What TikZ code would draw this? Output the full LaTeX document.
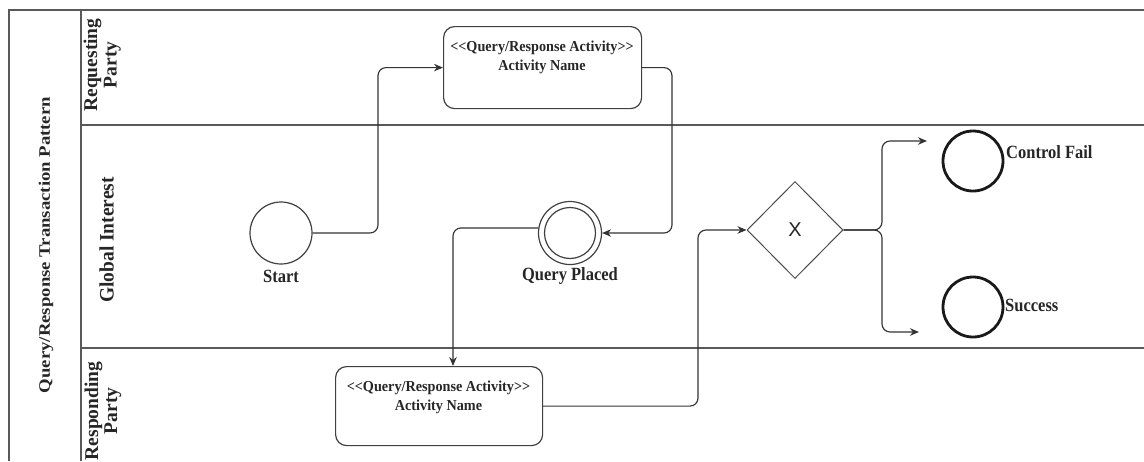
\documentclass[tikz,border=0pt]{standalone}
\usepackage{fontspec}
\usepackage{graphicx}
\setmainfont{Liberation Serif}
\newfontfamily\gwfont{Liberation Sans}
\usetikzlibrary{shapes.geometric,arrows.meta,calc}
% double angle brackets kept apart so the TeX mapping leaves them as they are
\newcommand\dlt{<\kern0pt<}
\newcommand\dgt{>\kern0pt>}
% slightly tall lettering, one or more centred lines
\newcommand\tallbox[3][1.13]{\scalebox{1}[#1]{\fontsize{#2}{#2}\selectfont\bfseries
  \begin{tabular}{@{}c@{}}#3\end{tabular}}}
% one line of lettering, baseline kept
\newcommand\tallline[3][1.0]{\scalebox{1}[#1]{\fontsize{#2}{#2}\selectfont\bfseries #3}}

\begin{document}
\begin{tikzpicture}[x=1pt,y=-1pt,
  frame/.style={draw=black!65, line width=1.4pt},
  flow/.style={draw=black!80, line width=1.15pt, rounded corners=8pt},
  arr/.style={flow, -{Stealth[length=9pt,width=7.5pt]}},
  actbox/.style={draw=black!75, line width=1.2pt, rounded corners=11pt, inner sep=0pt, anchor=north west},
  txt/.style={text=black!85, inner sep=0pt},
  evt/.style={circle, draw=black!75, line width=1.2pt, minimum size=62pt, inner sep=0pt},
  endevt/.style={circle, draw=black!90, line width=2.8pt, minimum size=60pt, inner sep=0pt},
  lanelabel/.style={txt, rotate=90, anchor=base},
]
\useasboundingbox (0,0) rectangle (1144,461);

% pool and lanes
\draw[frame] (1144,10) -- (9,10) -- (9,461);
\draw[frame] (81,10) -- (81,461);
\draw[frame, line width=1.3pt] (81,125) -- (1144,125);
\draw[frame, line width=1.3pt] (81,348) -- (1144,348);

\node[txt, rotate=90] (pool) at (46,245)
  {\scalebox{1.17}[1]{\fontsize{16}{18}\selectfont\bfseries Query/Response Transaction Pattern}};

% lane titles, each line set on its own baseline
\node[lanelabel] (lreq1) at (97,65) {\tallline{19.5}{Requesting}};
\node[lanelabel] (lreq2) at (116.5,65) {\tallline{19.5}{Party}};
\node[lanelabel] (lglob) at (113.5,240) {\tallline[1.05]{19.5}{Global Interest}};
\node[lanelabel] (lresp1) at (98,411) {\tallline{19.5}{Responding}};
\node[lanelabel] (lresp2) at (117,411) {\tallline{19.5}{Party}};

% activities
\node[actbox, minimum width=198pt, minimum height=82pt] (a1) at (443,26) {};
\node[txt] (a1t) at (542,57)
  {\renewcommand\arraystretch{1.25}\tallbox[1.07]{14.2}{\dlt Query/Response Activity\dgt\\Activity Name}};
\node[actbox, minimum width=207pt, minimum height=79pt] (a2) at (335,366) {};
\node[txt] (a2t) at (438.5,397)
  {\renewcommand\arraystretch{1.25}\tallbox[1.07]{14.2}{\dlt Query/Response Activity\dgt\\Activity Name}};

% events
\node[evt] (start) at (281,233) {};
\node[txt] (startl) at (281,279) {\tallbox{16.5}{Start}};
\node[evt, minimum size=63pt] (qp) at (570,233) {};
\node[evt, minimum size=51pt] (qpin) at (570,233) {};
\node[txt] (qpl) at (570,277) {\tallbox{16.5}{Query Placed}};

% exclusive gateway
\node[diamond, draw=black!70, line width=1pt, minimum width=96pt, minimum height=97pt, inner sep=0pt] (gw) at (795,230) {};
\node[txt, font=\gwfont\fontsize{20}{22}\selectfont] (gwx) at (795,229.5) {X};

% end events
\node[endevt] (cf) at (973,161) {};
\node[txt, anchor=west] (cfl) at (1006,155) {\tallbox{16.5}{Control Fail}};
\node[endevt] (su) at (973,307) {};
\node[txt, anchor=west] (sul) at (1005,308) {\tallbox{16.5}{Success}};

% routing columns and open arrow ends
\coordinate (j1) at (378,0);
\coordinate (j2) at (672,0);
\coordinate (j3) at (453,0);
\coordinate (j4) at (698,0);
\coordinate (j5) at (882,0);
\coordinate (cfin) at (927,141);
\coordinate (suin) at (919,332);

% sequence flows
\draw[arr] (start.east) -- (start.east -| j1) -- (a1.west -| j1) -- (a1.west);
\draw[arr] (a1.east) -- (a1.east -| j2) -- (qp.east -| j2) -- (qp.east);
\draw[arr] (qp.171) -- (qp.171 -| j3) -- (j3 |- a2.north);
\draw[arr] (a2.east) -- (a2.east -| j4) -- (gw.west -| j4) -- (gw.west);
\draw[arr] (gw.east) -- (gw.east -| j5) -- (cfin -| j5) -- (cfin);
\draw[arr] (gw.east) -- (gw.east -| j5) -- (suin -| j5) -- (suin);
\end{tikzpicture}
\end{document}
